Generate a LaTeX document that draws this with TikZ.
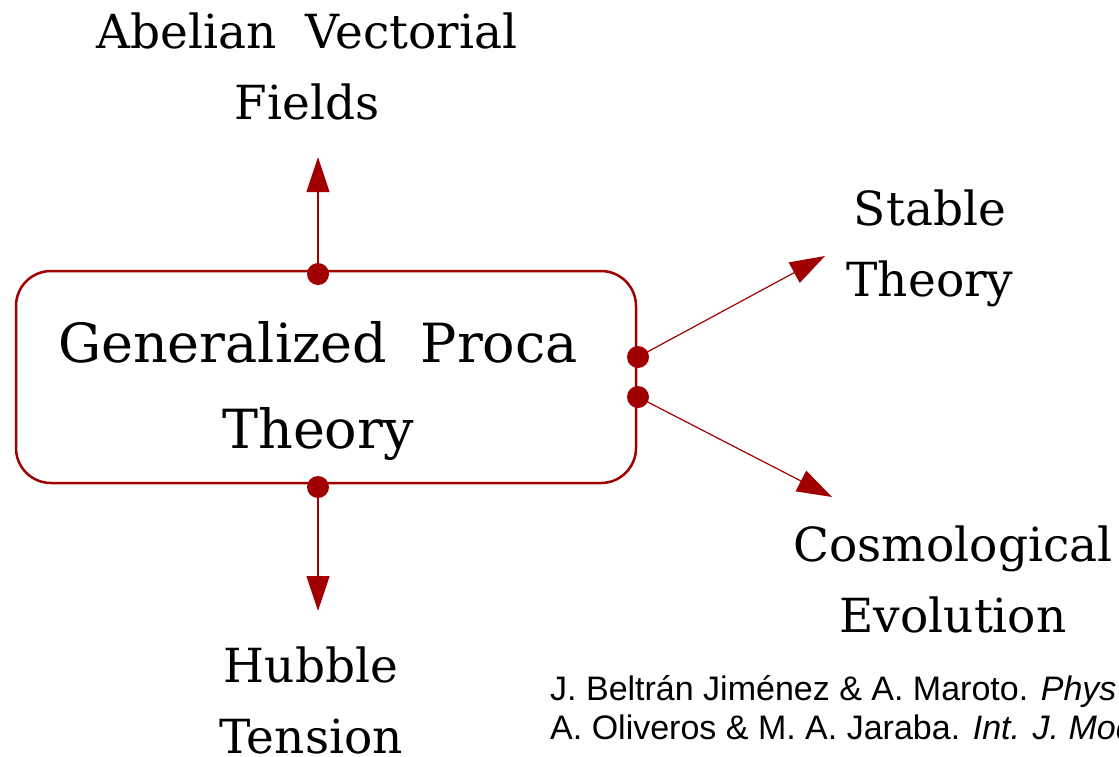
\documentclass[tikz,border=0pt]{standalone}
\usepackage{fontspec}
\setmainfont{DejaVu Serif}
\newfontfamily\refsans{Liberation Sans}
\usetikzlibrary{arrows.meta}
\definecolor{dred}{HTML}{A00000}
\tikzset{
  mainbox/.style={draw=dred, line width=2.5pt, rounded corners=35pt, minimum width=620pt, minimum height=212pt, inner sep=0pt},
  dotnode/.style={circle, fill=dred, minimum size=22pt, inner sep=0pt},
  conn/.style={draw=dred, line width=1.2pt, -{Triangle[length=35pt,width=23pt]}, shorten <=-11pt},
  lbl/.style={align=center, inner sep=0pt, font=\fontsize{47}{71}\selectfont},
  reftext/.style={anchor=base west, inner sep=0pt, font=\refsans\fontsize{34}{39}\selectfont}
}
\begin{document}
\begin{tikzpicture}[x=1pt,y=-1pt]
\useasboundingbox (0,0) rectangle (1119,756);
\node[mainbox] (box) at (326,377) {};
\node[align=center, inner sep=0pt, font=\fontsize{54}{86}\selectfont] (title) at (318,391) {Generalized\hspace{0.3em} Proca\\Theory};
\node[dotnode] (dtop) at (318,274) {};
\node[dotnode] (dbot) at (318,487) {};
\node[dotnode] (dr1) at (638,357) {};
\node[dotnode] (dr2) at (638,397) {};
\coordinate (ttop) at (318,157);
\coordinate (tbot) at (318,611);
\coordinate (tr1) at (825,256);
\coordinate (tr2) at (832,497);
\draw[conn] (dtop.center) -- (ttop);
\draw[conn] (dbot.center) -- (tbot);
\draw[conn] (dr1.center) -- (tr1);
\draw[conn] (dr2.center) -- (tr2);
\node[lbl] (abel) at (307,66) {Abelian\hspace{0.3em} Vectorial\\Fields};
\node[lbl] (stable) at (930,248) {Stable\\Theory};
\node[lbl] (cosmo) at (953,579) {Cosmological\\Evolution};
\node[lbl] (hubble) at (311,700) {Hubble\\Tension};
\node[reftext] (ref1) at (550,700) {J. Beltrán Jiménez \& A. Maroto. \textit{Phys}};
\node[reftext] (ref2) at (550,739) {A. Oliveros \& M. A. Jaraba. \textit{Int. J. Mod}};
\end{tikzpicture}
\end{document}
